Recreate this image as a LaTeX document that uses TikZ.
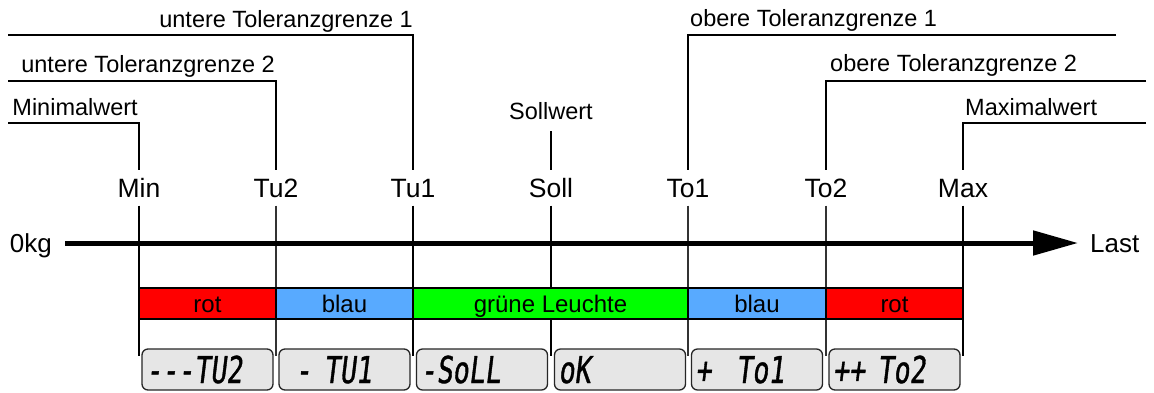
\documentclass[tikz,border=0pt]{standalone}
\usepackage{fontspec}
\setmainfont{Liberation Sans}
\newfontfamily\lcdfont[FakeSlant=0.12,FakeStretch=0.72,FakeBold=1]{DejaVu Sans Mono}
\usetikzlibrary{arrows.meta,calc}
\definecolor{barred}{RGB}{255,0,0}
\definecolor{barblue}{RGB}{88,170,255}
\definecolor{bargreen}{RGB}{0,255,0}
\definecolor{lcdgray}{RGB}{230,230,230}
\tikzset{
  lbl/.style={inner sep=0pt, minimum height=35pt, text height=19pt, text depth=0pt, font=\fontsize{26.5}{30}\selectfont},
  lead/.style={line width=2pt},
  note/.style={inner sep=0pt, font=\fontsize{23.5}{28}\selectfont},
  vthick/.style={line width=2pt},
  vthin/.style={line width=1.2pt, black!80},
  seg/.style={draw, line width=2pt, minimum height=31pt, inner sep=0pt, text height=17pt, text depth=0pt, font=\fontsize{24}{28}\selectfont},
  lcdbox/.style={draw=black!85, fill=lcdgray, line width=1.3pt, rounded corners=6pt, minimum width=131pt, minimum height=41pt, text width=123pt, inner xsep=4pt, inner ysep=0pt, align=left, text height=27pt, text depth=0pt, font=\lcdfont\fontsize{37}{40}\selectfont},
  axlbl/.style={inner ysep=0pt, text height=19pt, text depth=0pt, font=\fontsize{26}{30}\selectfont}
}
\begin{document}
\begin{tikzpicture}[x=1pt,y=-1pt]
\useasboundingbox (0,0) rectangle (1154,392);
\fill[white] (0,0) rectangle (1154,392);

% value labels
\node[lbl] (Min) at (139,188) {Min};
\node[lbl] (Tu2) at (276,188) {Tu2};
\node[lbl] (Tu1) at (413,188) {Tu1};
\node[lbl] (Soll) at (551,188) {Soll};
\node[lbl] (To1) at (688,188) {To1};
\node[lbl] (To2) at (826,188) {To2};
\node[lbl] (Max) at (963,188) {Max};

% leader lines and texts
\coordinate (cmin) at (8,123);
\coordinate (ctu2) at (8,80.5);
\coordinate (ctu1) at (8,35);
\coordinate (cto1) at (1116,35);
\coordinate (cto2) at (1146,81);
\coordinate (cmax) at (1146,123);
\draw[lead] (cmin) -| (Min.north);
\draw[lead] (ctu2) -| (Tu2.north);
\draw[lead] (ctu1) -| (Tu1.north);
\draw[lead] (cto1) -| (To1.north);
\draw[lead] (cto2) -| (To2.north);
\draw[lead] (cmax) -| (Max.north);
\node[note, anchor=base east] (tmin) at (138,115) {Minimalwert};
\node[note, anchor=base east] (ttu2) at (275,72) {untere Toleranzgrenze 2};
\node[note, anchor=base east] (ttu1) at (413,27) {untere Toleranzgrenze 1};
\node[note, anchor=base west] (tto1) at (690,26) {obere Toleranzgrenze 1};
\node[note, anchor=base west] (tto2) at (830,71) {obere Toleranzgrenze 2};
\node[note, anchor=base west] (tmax) at (965,115) {Maximalwert};
\node[note, anchor=base] (sw) at (551,119) {Sollwert};
\draw[lead] ($(sw.base)+(0,12)$) -- (Soll.north);

% lower verticals
\coordinate (emin) at (139,356);
\coordinate (etu2) at (276,356);
\coordinate (etu1) at (413,356);
\coordinate (esoll) at (551,356);
\coordinate (eto1) at (688,356);
\coordinate (eto2) at (826,356);
\coordinate (emax) at (963,356);
\draw[vthick] (Min.south) -- (emin);
\draw[vthin] (Tu2.south) -- (etu2);
\draw[vthick] (Tu1.south) -- (etu1);
\draw[vthick] (Soll.south) -- (esoll);
\draw[vthin] (To1.south) -- (eto1);
\draw[vthin] (To2.south) -- (eto2);
\draw[vthick] (Max.south) -- (emax);

% axis
\node[axlbl, anchor=east, inner xsep=13pt] (zero) at (65,243) {0kg};
\node[axlbl, anchor=west, inner xsep=12pt] (last) at (1078,243) {Last};
\draw[line width=5pt, -{Triangle[length=45pt,width=24pt]}] (zero.east) -- (last.west);

% colour bar
\node[seg, fill=barred, minimum width=137pt] (b1) at (207.5,303.5) {rot};
\node[seg, fill=barblue, minimum width=137pt] (b2) at (344.5,303.5) {blau};
\node[seg, fill=bargreen, minimum width=275pt] (b3) at (550.5,303.5) {grüne Leuchte};
\node[seg, fill=barblue, minimum width=138pt] (b4) at (757,303.5) {blau};
\node[seg, fill=barred, minimum width=137pt] (b5) at (894.5,303.5) {rot};

% displays
\node[lcdbox] (d1) at (207.5,369.5) {---TU2};
\node[lcdbox] (d2) at (344.5,369.5) {~-~TU1};
\node[lcdbox] (d3) at (482,369.5) {-SoLL};
\node[lcdbox] (d4) at (620,369.5) {oK};
\node[lcdbox] (d5) at (757,369.5) {+~~To1};
\node[lcdbox] (d6) at (894.5,369.5) {++~To2};
\end{tikzpicture}
\end{document}
